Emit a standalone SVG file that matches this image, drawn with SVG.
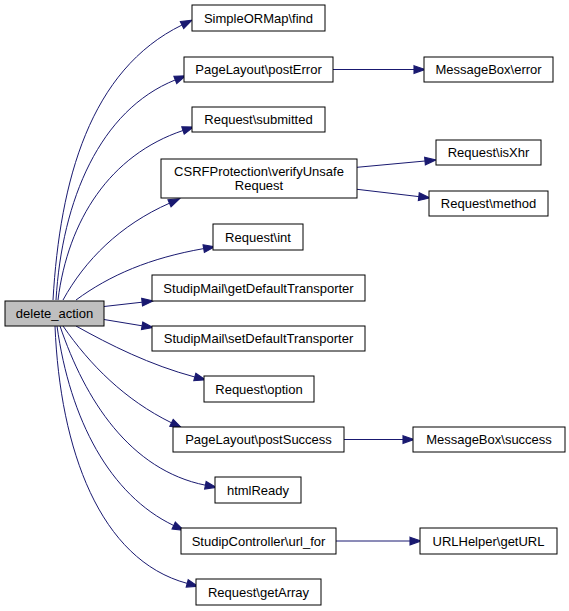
<svg xmlns="http://www.w3.org/2000/svg" width="569" height="611" viewBox="0 0 569 611">
<style>
.n rect{fill:#ffffff;stroke:#000000;stroke-width:1}
.n.root rect{fill:#bfbfbf}
.n text{font-family:"Liberation Sans",Arial,sans-serif;font-size:13px;fill:#000000;text-anchor:middle}
.e path{fill:none;stroke:#191970;stroke-width:1;marker-end:url(#ah)}
</style>
<defs>
<marker id="ah" markerUnits="userSpaceOnUse" markerWidth="11" markerHeight="8" viewBox="0 0 10 7" refX="0" refY="3.5" orient="auto" overflow="visible">
<path d="M0,0 L10,3.5 L0,7 z" fill="#191970" stroke="#191970" stroke-width="1"/>
</marker>
</defs>
<rect width="569" height="611" fill="#ffffff"/>
<g id="connectors" class="e">
<path d="M53,300 C60,180 90,70 182,25"/>
<path d="M56,300 C62,200 100,110 175.3,79.9"/>
<path d="M58,300 C68,220 110,155 183,130.5"/>
<path d="M63,300 C85,260 120,225 169.5,203.2"/>
<path d="M76,300 C110,275 150,258 203.7,248.6"/>
<path d="M104,306.5 L142.1,302.2"/>
<path d="M104,319.5 L142.1,325.8"/>
<path d="M76,326 C110,345 150,365 194.8,377"/>
<path d="M63,326 C90,365 125,400 171.5,422.8"/>
<path d="M60,326 C85,400 130,470 205.4,485.2"/>
<path d="M57,326 C70,420 110,495 173.7,525.5"/>
<path d="M55,326 C60,450 100,560 187.2,583.4"/>
<path d="M333,69.5 L414,69.5"/>
<path d="M357,167.3 L425,161"/>
<path d="M357,189.3 L418.8,196.6"/>
<path d="M344,439.5 L403,439.5"/>
<path d="M336,541 L410,541"/>
</g>
<g id="delete_action" class="n root"><rect x="5" y="301" width="99" height="25"/><text x="54.5" y="318">delete_action</text></g>
<g id="find" class="n"><rect x="192" y="5" width="133" height="26"/><text x="258.5" y="22.5">SimpleORMap\find</text></g>
<g id="postError" class="n"><rect x="184" y="57" width="149" height="25"/><text x="258.5" y="74">PageLayout\postError</text></g>
<g id="error" class="n"><rect x="424" y="57" width="129" height="25"/><text x="488.5" y="74">MessageBox\error</text></g>
<g id="submitted" class="n"><rect x="192" y="107" width="133" height="25"/><text x="258.5" y="124">Request\submitted</text></g>
<g id="verifyUnsafeRequest" class="n"><rect x="161" y="159" width="196" height="39"/><text x="259" y="175.5">CSRFProtection\verifyUnsafe</text><text x="259" y="189.5">Request</text></g>
<g id="isXhr" class="n"><rect x="436" y="140" width="105" height="25"/><text x="488.5" y="157">Request\isXhr</text></g>
<g id="method" class="n"><rect x="429" y="191" width="119" height="25"/><text x="488.5" y="208">Request\method</text></g>
<g id="int" class="n"><rect x="213" y="224" width="90" height="26"/><text x="258" y="241.5">Request\int</text></g>
<g id="getDefaultTransporter" class="n"><rect x="152" y="275" width="213" height="26"/><text x="258.5" y="292.5">StudipMail\getDefaultTransporter</text></g>
<g id="setDefaultTransporter" class="n"><rect x="152" y="326" width="213" height="25"/><text x="258.5" y="343">StudipMail\setDefaultTransporter</text></g>
<g id="option" class="n"><rect x="204" y="376" width="110" height="26"/><text x="259" y="393.5">Request\option</text></g>
<g id="postSuccess" class="n"><rect x="173" y="427" width="171" height="25"/><text x="258.5" y="444">PageLayout\postSuccess</text></g>
<g id="success" class="n"><rect x="413" y="427" width="152" height="25"/><text x="489" y="444">MessageBox\success</text></g>
<g id="htmlReady" class="n"><rect x="215" y="477" width="86" height="26"/><text x="258" y="494.5">htmlReady</text></g>
<g id="url_for" class="n"><rect x="181" y="528" width="155" height="26"/><text x="258.5" y="545.5">StudipController\url_for</text></g>
<g id="getURL" class="n"><rect x="420" y="528" width="137" height="26"/><text x="488.5" y="545.5">URLHelper\getURL</text></g>
<g id="getArray" class="n"><rect x="196" y="579" width="125" height="26"/><text x="258.5" y="596.5">Request\getArray</text></g>
</svg>
